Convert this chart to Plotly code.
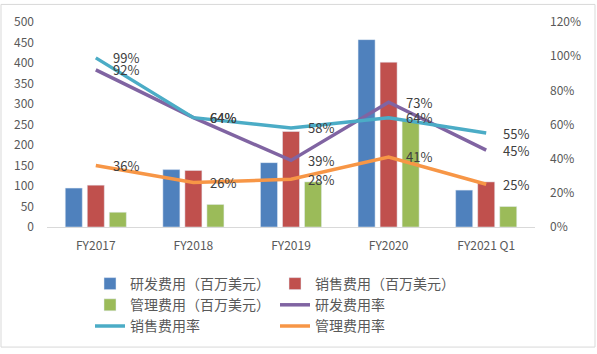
import plotly.graph_objects as go

categories = ["FY2017", "FY2018", "FY2019", "FY2020", "FY2021 Q1"]
rd_cost = [95, 140, 157, 457, 90]
sales_cost = [102, 138, 233, 402, 110]
admin_cost = [36, 55, 110, 260, 50]
rd_rate = [92, 64, 39, 73, 45]
sales_rate = [99, 64, 58, 64, 55]
admin_rate = [36, 26, 28, 41, 25]

FONT = "Noto Sans CJK SC"
TXT = "#595959"

fig = go.Figure()
fig.add_trace(go.Bar(x=categories, y=rd_cost, name="研发费用（百万美元）", marker_color="#4F81BD"))
fig.add_trace(go.Bar(x=categories, y=sales_cost, name="销售费用（百万美元）", marker_color="#C0504D"))
fig.add_trace(go.Bar(x=categories, y=admin_cost, name="管理费用（百万美元）", marker_color="#9BBB59"))

annotations = []
def line(vals, name, color):
    for c, v in zip(categories, vals):
        annotations.append(dict(x=c, y=v / 100, xref="x", yref="y2", text=f"{v}%",
                                showarrow=False, xanchor="left", yanchor="middle", xshift=15,
                                font=dict(family=FONT, size=13, color="#404040")))
    return go.Scatter(x=categories, y=[v / 100 for v in vals], name=name, yaxis="y2",
                      mode="lines", line=dict(color=color, width=3.5))

fig.add_trace(line(rd_rate, "研发费用率", "#8064A2"))
fig.add_trace(line(sales_rate, "销售费用率", "#4BACC6"))
fig.add_trace(line(admin_rate, "管理费用率", "#F79646"))

W, H = 597, 354
L, R, T, B = 47, 62, 19, 125
pw, ph = W - L - R, H - T - B
def px(x): return (x - L) / pw
def py(y): return (H - B - y) / ph

fig.add_shape(type="rect", xref="paper", yref="paper",
              x0=px(1), x1=px(595), y0=py(1), y1=py(352),
              line=dict(color="#D9D9D9", width=1), fillcolor="rgba(0,0,0,0)", layer="below")

fig.update_layout(
    width=W, height=H, margin=dict(l=L, r=R, t=T, b=B),
    paper_bgcolor="white", plot_bgcolor="white",
    font=dict(family=FONT, size=12, color=TXT),
    barmode="group", bargap=0.323, bargroupgap=0.227,
    showlegend=True, annotations=annotations,
    legend=dict(orientation="h", x=px(90), y=py(271), xanchor="left", yanchor="top",
                entrywidth=140, entrywidthmode="pixels", traceorder="normal",
                font=dict(family=FONT, size=14, color=TXT), tracegroupgap=0, itemwidth=30),
    xaxis=dict(showgrid=False, showline=True, linecolor="#D9D9D9", linewidth=1,
               ticks="", ticklabelstandoff=8, tickfont=dict(size=12, color=TXT)),
    yaxis=dict(range=[0, 500], dtick=50, showgrid=False, zeroline=False, showline=False,
               ticks="", ticklabelstandoff=12, tickfont=dict(size=12, color=TXT)),
    yaxis2=dict(range=[0, 1.2], dtick=0.2, tickformat=".0%", overlaying="y", side="right",
                showgrid=False, zeroline=False, showline=False, ticks="",
                ticklabelstandoff=14, tickfont=dict(size=12, color=TXT)),
)

fig.write_html("out.html")
